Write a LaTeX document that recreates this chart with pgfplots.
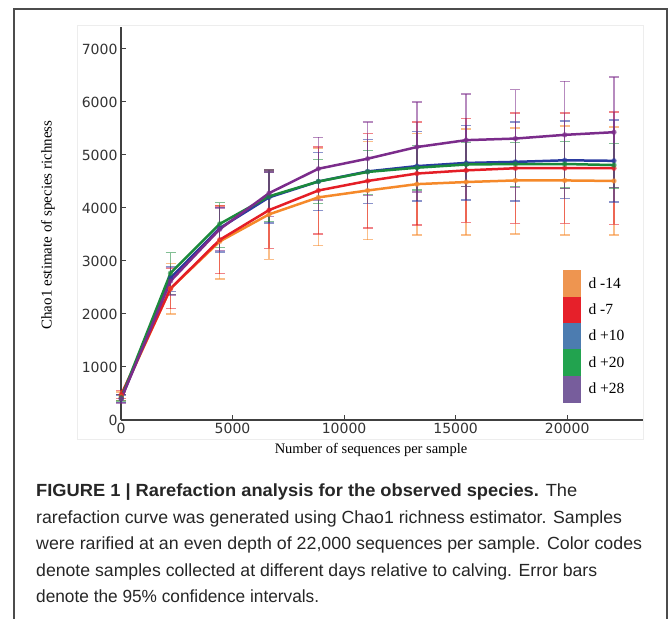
\documentclass[border=0pt]{standalone}
\usepackage{graphicx}
\usepackage{pgfplots}
\pgfplotsset{compat=1.18}
\usepackage{pgfplotstable}
\usepackage{fontspec}
\setmainfont{Liberation Serif}
\newfontfamily\dejavu{DejaVu Sans}
\newfontfamily\capfont{Liberation Sans}

\definecolor{lineOrange}{HTML}{F5892A}
\definecolor{lineRed}{HTML}{E41E26}
\definecolor{lineBlue}{HTML}{2A3AA0}
\definecolor{lineGreen}{HTML}{1B8A3C}
\definecolor{linePurple}{HTML}{7B2C8B}
\definecolor{legOrange}{HTML}{EE9550}
\definecolor{legRed}{HTML}{E6202A}
\definecolor{legBlue}{HTML}{4C7CB0}
\definecolor{legGreen}{HTML}{22A34F}
\definecolor{legPurple}{HTML}{775D9C}

\pgfplotstableread{
x y ep em
10 450 80 80
2219 2480 470 480
4428 3370 680 710
6637 3880 840 850
8846 4200 920 910
11055 4330 930 930
13264 4450 950 960
15473 4490 1000 1000
17682 4520 990 1010
19891 4520 1030 1030
22100 4510 1020 1020
}\dOrange
\pgfplotstableread{
x y ep em
10 480 80 80
2219 2480 380 380
4428 3400 640 640
6637 3960 720 720
8846 4330 820 820
11055 4510 890 890
13264 4650 970 970
15473 4710 980 980
17682 4750 1040 1040
19891 4750 1040 1040
22100 4750 1060 1060
}\dRed
\pgfplotstableread{
x y ep em
10 400 70 70
2219 2680 220 250
4428 3620 390 450
6637 4200 480 480
8846 4500 550 550
11055 4690 600 600
13264 4790 650 660
15473 4850 710 700
17682 4870 750 740
19891 4900 740 720
22100 4890 770 780
}\dBlue
\pgfplotstableread{
x y ep em
10 420 60 60
2219 2770 390 400
4428 3700 400 450
6637 4220 500 480
8846 4500 420 420
11055 4680 410 420
13264 4760 420 420
15473 4820 410 410
17682 4830 400 420
19891 4830 420 450
22100 4810 410 430
}\dGreen
\pgfplotstableread{
x y ep em
10 400 80 80
2219 2620 260 260
4428 3600 400 400
6637 4280 440 440
8846 4740 590 590
11055 4930 690 690
13264 5150 850 850
15473 5280 870 870
17682 5310 920 920
19891 5380 1010 1010
22100 5430 1040 1040
}\dPurple

\newcommand{\errplot}[2]{%
  \addplot[forget plot, color=#1, opacity=0.55, line width=1.4pt, only marks, mark=none,
    error bars/.cd, y dir=both, y explicit,
    error bar style={line width=1.4pt},
    error mark options={color=#1, line width=1.4pt, mark size=5pt, rotate=90}]
    table[x=x, y=y, y error plus=ep, y error minus=em] {#2};}
\newcommand{\lineplot}[2]{%
  \addplot[forget plot, draw=#1, line width=2.5pt, mark=none, line join=round]
    table[x=x, y=y] {#2};}
\newcommand{\legbox}[1]{\addlegendimage{legend image code/.code={\fill[#1] (0pt,-13pt) rectangle (17pt,13pt);}}}
\newcommand{\capline}[2]{\resizebox{#1}{\height}{#2}}

\begin{document}
\begin{tikzpicture}
\useasboundingbox (0pt,0pt) rectangle (670pt,619pt);
\draw[black!70, line width=1.2pt] (14pt,-2pt) -- (14pt,610pt) -- (667pt,610pt) -- (667pt,-2pt);
\draw[black!7, line width=0.8pt] (77pt,180pt) rectangle (643pt,594pt);
\begin{axis}[
  at={(121pt,199pt)}, anchor=south west,
  scale only axis, width=522pt, height=393pt,
  xmin=0, xmax=23400, ymin=0, ymax=7415,
  axis x line*=bottom, axis y line*=left,
  axis line style={-, draw=black!75, line width=1.3pt},
  xtick={0,5000,10000,15000,20000},
  ytick={0,1000,2000,3000,4000,5000,6000,7000},
  scaled ticks=false,
  tick align=inside, major tick length=5pt,
  tick style={black!75, line width=1pt},
  /pgf/number format/assume math mode=true,
  /pgf/number format/set thousands separator={},
  tick label style={font=\dejavu\fontsize{14}{14}\selectfont, text=black!80},
  clip=false,
  legend style={at={(0.8467,0.3817)}, anchor=north west, draw=none, fill=none,
    inner sep=0pt, row sep=0pt, column sep=6pt,
    font=\fontsize{15.5}{15.5}\selectfont, cells={anchor=west}},
]
\errplot{lineOrange}{\dOrange}
\errplot{lineRed}{\dRed}
\errplot{lineBlue}{\dBlue}
\errplot{lineGreen}{\dGreen}
\errplot{linePurple}{\dPurple}
\lineplot{lineOrange}{\dOrange}
\lineplot{lineRed}{\dRed}
\lineplot{lineBlue}{\dBlue}
\lineplot{lineGreen}{\dGreen}
\lineplot{linePurple}{\dPurple}
\legbox{legOrange}\addlegendentry{d -14}
\legbox{legRed}\addlegendentry{d -7}
\legbox{legBlue}\addlegendentry{d +10}
\legbox{legGreen}\addlegendentry{d +20}
\legbox{legPurple}\addlegendentry{d +28}
\end{axis}
\node[rotate=90, font=\fontsize{15}{15}\selectfont] at (48pt,394pt) {Chao1 estimate of species richness};
\node[font=\fontsize{14.5}{14.5}\selectfont] at (371pt,169pt) {Number of sequences per sample};
\begin{scope}[every node/.style={anchor=base west, inner sep=0pt, font=\capfont\fontsize{17.6}{17.6}\selectfont, text=black!85}]
\node at (36pt,122pt) {\capline{541pt}{\textbf{FIGURE 1 | Rarefaction analysis for the observed species.} The}};
\node at (36pt,95.5pt) {\capline{586pt}{rarefaction curve was generated using Chao1 richness estimator. Samples}};
\node at (36pt,69pt) {\capline{606pt}{were rarified at an even depth of 22,000 sequences per sample. Color codes}};
\node at (36pt,42.5pt) {\capline{561pt}{denote samples collected at different days relative to calving. Error bars}};
\node at (36pt,16pt) {\capline{283pt}{denote the 95\% confidence intervals.}};
\end{scope}
\end{tikzpicture}
\end{document}
